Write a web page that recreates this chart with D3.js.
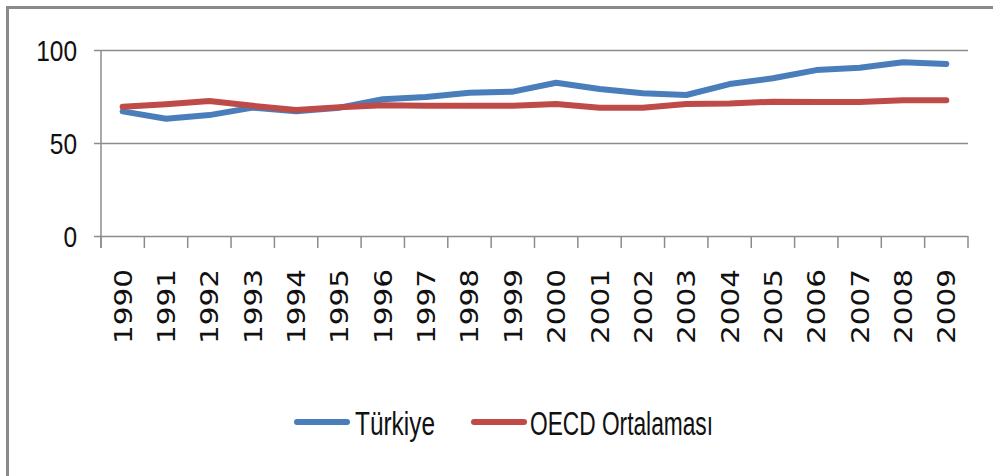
<!DOCTYPE html>
<html>
<head>
<meta charset="utf-8">
<script src="https://cdn.jsdelivr.net/npm/d3@7"></script>
<style>
  html, body { margin: 0; padding: 0; background: #fff; }
  svg { display: block; }
</style>
</head>
<body>
<svg id="chart" width="993" height="476"></svg>
<script>
const years = ["1990","1991","1992","1993","1994","1995","1996","1997","1998","1999",
               "2000","2001","2002","2003","2004","2005","2006","2007","2008","2009"];
const turkiye = [67, 63, 65, 69, 67, 69, 73.5, 74.7, 77, 77.6, 82.4, 79, 76.7, 75.8, 81.7, 84.8, 89.2, 90.5, 93.4, 92.5];
const oecd    = [69.5, 70.8, 72.6, 70, 67.7, 69.2, 70.3, 70, 70, 70, 71, 69, 69, 71, 71.3, 72.2, 72, 72, 73, 73];
const yTicks = [0, 50, 100];
const seriesNames = ["Türkiye", "OECD Ortalaması"];
const seriesColors = ["#4a7ebb", "#be4b48"];

const svg = d3.select("#chart");
const plotLeft = 101, plotRight = 968, plotTop = 50, plotBottom = 236;

// outer frame (right/bottom edges beyond image)
svg.append("rect").attr("x", 7.5).attr("y", 7.5).attr("width", 1100).attr("height", 600)
  .attr("fill", "none").attr("stroke", "#8a8a8a").attr("stroke-width", 3);

const x = d3.scaleBand().domain(years).range([plotLeft, plotRight]).padding(0);
const y = d3.scaleLinear().domain([0, 100]).range([plotBottom, plotTop]);

// y axis with gridlines
const yAxis = svg.append("g").attr("transform", `translate(${plotLeft},0)`)
  .call(d3.axisLeft(y).tickValues(yTicks).tickSize(-(plotRight - plotLeft)).tickPadding(0));
yAxis.select(".domain").remove();
yAxis.selectAll(".tick line").attr("x1", -7).attr("stroke", "#8c8c8c").attr("stroke-width", 1.5);
yAxis.selectAll(".tick text")
  .attr("x", -24).attr("dy", null).attr("y", 10.5)
  .attr("text-anchor", "end")
  .style("font-family", "'Liberation Sans Narrow', 'Liberation Sans', sans-serif")
  .style("font-size", "30px").attr("fill", "#111")
  .each(function(d) {
    const s = String(d);
    d3.select(this).attr("textLength", s.length * 13.6).attr("lengthAdjust", "spacingAndGlyphs");
  });

// vertical axis line
svg.append("line").attr("x1", plotLeft).attr("x2", plotLeft).attr("y1", y(100)).attr("y2", plotBottom + 12)
  .attr("stroke", "#8c8c8c").attr("stroke-width", 1.5);

// x axis tick marks at band boundaries
const bounds = years.map(d => x(d)).concat([x.range()[1]]);
svg.append("g").selectAll("line").data(bounds).join("line")
  .attr("x1", d => d).attr("x2", d => d).attr("y1", plotBottom).attr("y2", plotBottom + 12)
  .attr("stroke", "#8c8c8c").attr("stroke-width", 1.5);

// x labels
svg.append("g").selectAll("text").data(years).join("text")
  .attr("transform", d => `translate(${x(d) + x.bandwidth() / 2 + 9},269) rotate(-90)`)
  .attr("text-anchor", "end")
  .style("font-family", "'DejaVu Sans', sans-serif")
  .style("font-size", "25px").attr("fill", "#111")
  .attr("textLength", 75).attr("lengthAdjust", "spacingAndGlyphs")
  .text(d => d);

// lines
const line = d3.line().x((d, i) => x(years[i]) + x.bandwidth() / 2).y(d => y(d));
[turkiye, oecd].forEach((s, k) => {
  svg.append("path").datum(s).attr("d", line)
    .attr("fill", "none").attr("stroke", seriesColors[k]).attr("stroke-width", 6)
    .attr("stroke-linejoin", "round").attr("stroke-linecap", "round");
});

// legend
const legendItems = [
  { x1: 297, x2: 347, tx: 355, len: 80 },
  { x1: 474, x2: 524, tx: 530, len: 183 }
];
legendItems.forEach((it, k) => {
  svg.append("line").attr("x1", it.x1).attr("x2", it.x2).attr("y1", 422).attr("y2", 422)
    .attr("stroke", seriesColors[k]).attr("stroke-width", 6).attr("stroke-linecap", "round");
  svg.append("text").attr("x", it.tx).attr("y", 435)
    .style("font-family", "'Liberation Sans Narrow', 'Liberation Sans', sans-serif")
    .style("font-size", "33px").attr("fill", "#111")
    .attr("textLength", it.len).attr("lengthAdjust", "spacingAndGlyphs")
    .text(seriesNames[k]);
});
</script>
</body>
</html>
